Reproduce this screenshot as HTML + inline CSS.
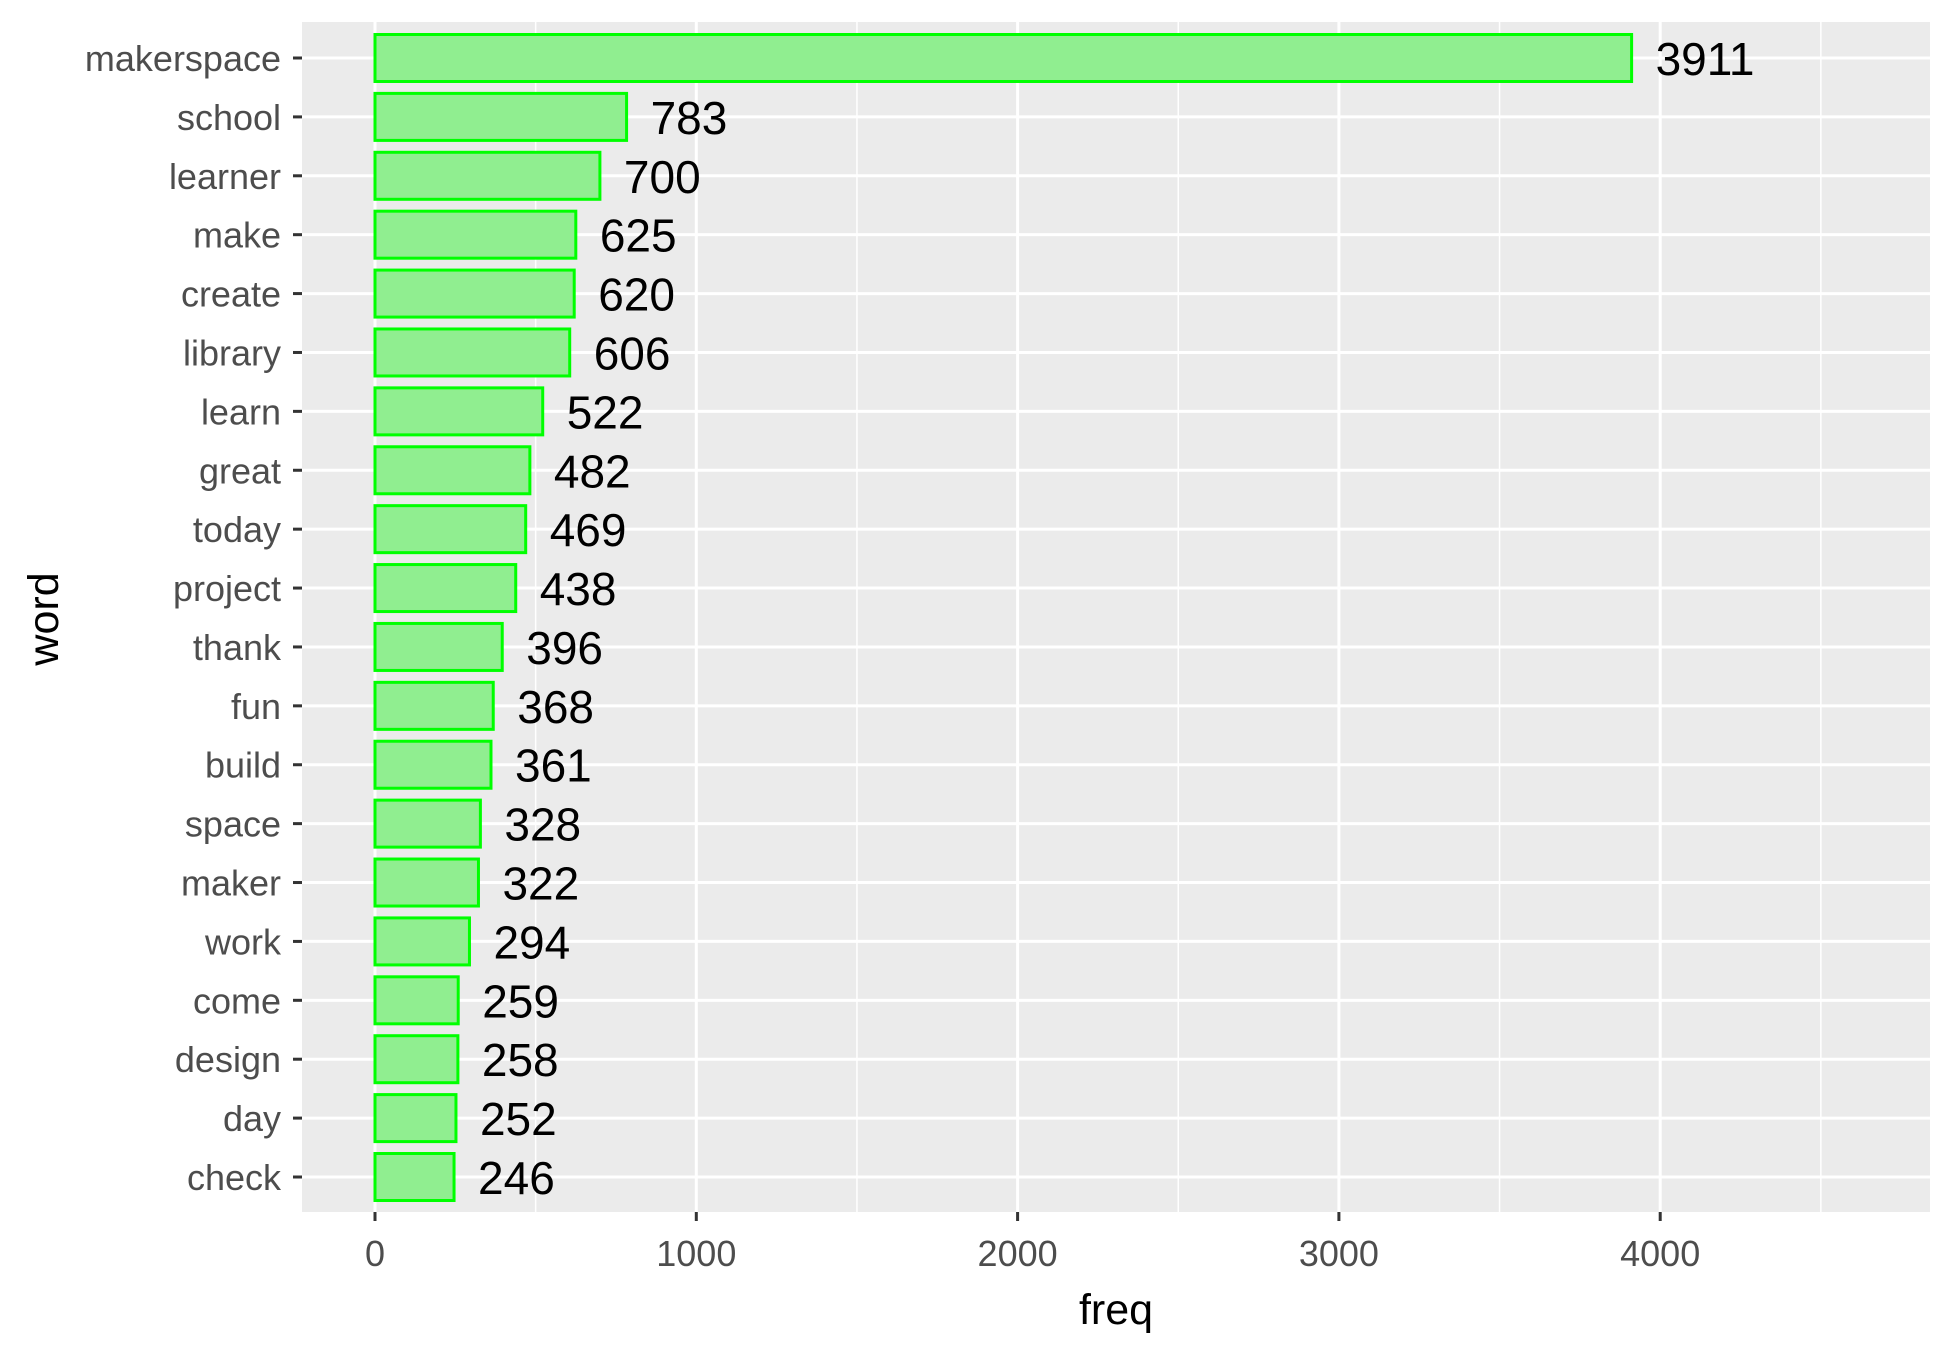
<!DOCTYPE html>
<html><head><meta charset="utf-8"><style>body{margin:0;background:#fff}svg{display:block}</style></head>
<body>
<svg id="c" width="1950" height="1350" viewBox="0 0 1950 1350" xmlns="http://www.w3.org/2000/svg" font-family="Liberation Sans, Arial, sans-serif"></svg>
<script>
const words=["makerspace","school","learner","make","create","library","learn","great","today","project","thank","fun","build","space","maker","work","come","design","day","check"];
const freqs=[3911,783,700,625,620,606,522,482,469,438,396,368,361,328,322,294,259,258,252,246];
const xTicks=[0,1000,2000,3000,4000];
const xMinor=[500,1500,2500,3500,4500];
const P={l:302,r:1930,t:22,b:1212};
const x=v=>375+v*0.3213;
const y0=58,step=(1177-58)/19;
const y=i=>y0+i*step;
const NS="http://www.w3.org/2000/svg";
const svg=document.getElementById('c');
function mk(t,a,p){const e=document.createElementNS(NS,t);for(const k in a)e.setAttribute(k,a[k]);(p||svg).appendChild(e);return e;}
const bg=mk('rect',{x:P.l,y:P.t,width:P.r-P.l,height:P.b-P.t,fill:'#ebebeb'});


xMinor.forEach(v=>{const l=mk('line',{x1:x(v),x2:x(v),y1:P.t,y2:P.b,stroke:'#fff','stroke-width':1.5});

});
xTicks.forEach(v=>{const l=mk('line',{x1:x(v),x2:x(v),y1:P.t,y2:P.b,stroke:'#fff','stroke-width':3});


const tk=mk('line',{x1:x(v),x2:x(v),y1:P.b,y2:P.b+9,stroke:'#333','stroke-width':3});


const t=mk('text',{x:x(v),y:1266,'text-anchor':'middle','font-size':36,fill:'#4d4d4d'});t.textContent=v;

});
words.forEach((w,i)=>{const l=mk('line',{x1:P.l,x2:P.r,y1:y(i),y2:y(i),stroke:'#fff','stroke-width':3});

});
words.forEach((w,i)=>{const h=47;
const r=mk('rect',{x:x(0),y:y(i)-h/2,width:x(freqs[i])-x(0),height:h,fill:'#90ee90',stroke:'#00ff00','stroke-width':3});


const v=mk('text',{x:x(freqs[i])+24,y:y(i)+17,'font-size':46,fill:'#000'});v.textContent=freqs[i];


const tk=mk('line',{x1:P.l-9,x2:P.l,y1:y(i),y2:y(i),stroke:'#333','stroke-width':3});


const t=mk('text',{x:281,y:y(i)+13,'text-anchor':'end','font-size':36,fill:'#4d4d4d'});t.textContent=w;

});
const xt=mk('text',{x:(P.l+P.r)/2,y:1324,'text-anchor':'middle','font-size':43,fill:'#000'});xt.textContent='freq';


const yt=mk('text',{x:0,y:0,transform:'translate(58,619) rotate(-90)','text-anchor':'middle','font-size':43,fill:'#000'});yt.textContent='word';


</script>
</body></html>
